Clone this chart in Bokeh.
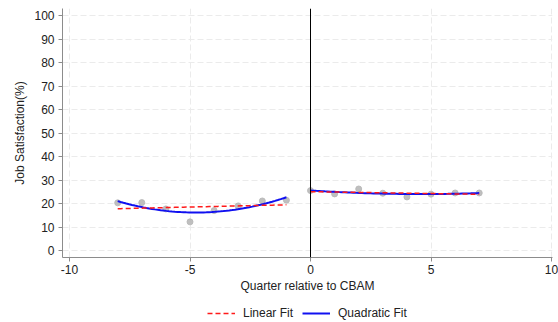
import numpy as np
from bokeh.plotting import figure
from bokeh.layouts import column
from bokeh.models import Span, Legend, LegendItem, FixedTicker, Range1d
from bokeh.embed import file_html
from bokeh.resources import INLINE

# Data (binned means)
pre_q = [-8, -7, -6, -5, -4, -3, -2, -1]
pre_val = [20.3, 20.4, 17.7, 12.2, 17.0, 19.0, 21.1, 21.4]
post_q = [0, 1, 2, 3, 4, 5, 6, 7]
post_val = [25.5, 24.1, 26.2, 24.4, 22.8, 24.0, 24.5, 24.5]
x_ticks = [-10, -5, 0, 5, 10]
y_ticks = [0, 10, 20, 30, 40, 50, 60, 70, 80, 90, 100]

FONT = "Liberation Sans"
RED = "#ff1a1a"
BLUE = "#1010f0"

p = figure(width=558, height=296,
           x_range=(-10.29, 10.04), y_range=(-2.96, 103),
           output_backend="svg", toolbar_location=None,
           min_border_left=62, min_border_right=6, min_border_top=8, min_border_bottom=39)
p.outline_line_color = None
p.background_fill_color = "white"

for g in (p.xgrid, p.ygrid):
    g.grid_line_color = "#ebebeb"
    g.grid_line_dash = "6 3"
    g.grid_line_width = 1
p.xgrid.ticker = FixedTicker(ticks=x_ticks)
p.ygrid.ticker = FixedTicker(ticks=y_ticks)

for ax in (p.xaxis, p.yaxis):
    ax.axis_line_color = "#8c8c8c"
    ax.major_tick_line_color = "#8c8c8c"
    ax.major_tick_out = 4
    ax.major_tick_in = 0
    ax.minor_tick_line_color = None
    ax.major_label_text_font = FONT
    ax.major_label_text_font_size = "12px"
    ax.major_label_text_color = "#222222"
    ax.axis_label_text_font = FONT
    ax.axis_label_text_font_size = "12px"
    ax.axis_label_text_font_style = "normal"
    ax.axis_label_text_color = "#222222"

p.xaxis.ticker = FixedTicker(ticks=x_ticks)
p.yaxis.ticker = FixedTicker(ticks=y_ticks)
p.xaxis.major_label_overrides = {t: str(t) for t in x_ticks}
p.xaxis.axis_label = "Quarter relative to CBAM"
p.yaxis.axis_label = "Job Satisfaction(%)"
p.xaxis.major_label_standoff = 3
p.yaxis.major_label_standoff = 4
p.xaxis.axis_label_standoff = 2
p.yaxis.axis_label_standoff = 4

# vertical line at 0
p.add_layout(Span(location=0, dimension="height", line_color="black", line_width=1))

fits = []
for q, v in ((pre_q, pre_val), (post_q, post_val)):
    q = np.array(q, dtype=float)
    v = np.array(v, dtype=float)
    xs = np.linspace(q.min(), q.max(), 60)
    lin = np.polyval(np.polyfit(q, v, 1), xs)
    quad = np.polyval(np.polyfit(q, v, 2), xs)
    fits.append((xs, lin, quad))
    p.scatter(q, v, size=6, color="#b8b8b8", alpha=0.9)
    p.line(xs, quad, line_color=BLUE, line_width=2)
    p.line(xs, lin, line_color=RED, line_width=1.5, line_dash="5 3")

# legend strip below the chart (its renderers lie outside the visible range)
lg = figure(width=558, height=26, x_range=Range1d(100, 101), y_range=Range1d(100, 101),
            output_backend="svg", toolbar_location=None,
            x_axis_location=None, y_axis_location=None,
            min_border_left=0, min_border_right=0, min_border_top=0, min_border_bottom=0)
lg.outline_line_color = None
lg.xgrid.visible = False
lg.ygrid.visible = False
xs, lin, quad = fits[0]
r_lin = lg.line(xs, lin, line_color=RED, line_width=1.5, line_dash="5 3")
r_quad = lg.line(xs, quad, line_color=BLUE, line_width=2)

legend = Legend(items=[LegendItem(label="Linear Fit", renderers=[r_lin]),
                       LegendItem(label="Quadratic Fit", renderers=[r_quad])],
                orientation="horizontal", location=(145, 2),
                border_line_color=None, background_fill_alpha=0,
                label_text_font=FONT, label_text_font_size="12px", label_text_color="#222222",
                glyph_width=28, glyph_height=14, label_height=14, label_standoff=8, spacing=9,
                padding=2, margin=0)
lg.add_layout(legend, "center")

open("out.html", "w").write(file_html(column(p, lg), INLINE))
